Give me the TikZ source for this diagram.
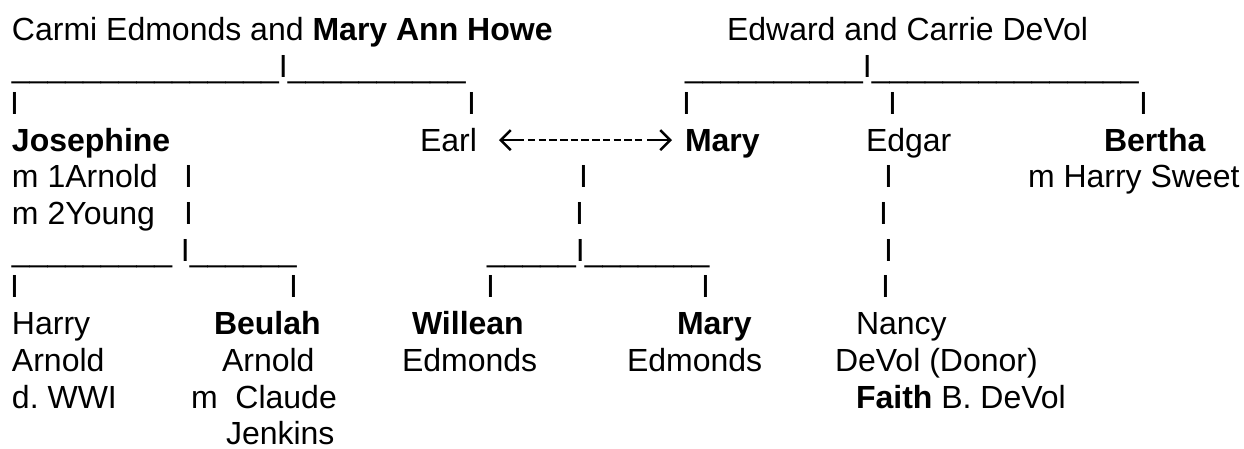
\documentclass[tikz,border=0pt]{standalone}
\usepackage{fontspec}
\setmainfont{Liberation Sans}
\usetikzlibrary{arrows.meta}
\newcommand{\unders}[1]{\foreach \k in {1,...,#1}{\_}}

\begin{document}
\begin{tikzpicture}[x=1pt,y=-1pt,
  font=\fontsize{32}{37}\selectfont\frenchspacing,
  txt/.style={anchor=base west,inner sep=0pt,outer sep=0pt},
  spouse/.style={line width=2.5pt,dash pattern=on 7.5pt off 3.2pt},
  spousetip/.style={line width=2.5pt,-{Straight Barb[length=10pt,width=20pt]}}]
\fill[white] (0,0) rectangle (1244,449);
\useasboundingbox (0,0) rectangle (1244,449);
% grandparents
\node[txt] (edmonds) at (12,41) {Carmi Edmonds and \textbf{Mary Ann Howe}};
\node[txt] (devol) at (727,41) {Edward and Carrie DeVol};
\node[txt] (barE) at (12,77.7) {\unders{15}I\unders{10}};
\node[txt] (barD) at (685,77.7) {\unders{10}I\unders{15}};
\node[txt] (vjos) at (10,114.4) {I};
\node[txt] (vearl) at (467,114.4) {I};
\node[txt] (vmary) at (682,114.4) {I};
\node[txt] (vedgar) at (888,114.4) {I};
\node[txt] (vbertha) at (1139,114.4) {I};
% children
\node[txt] (josephine) at (12,151.1) {\textbf{Josephine}};
\node[txt] (earl) at (420,151.1) {Earl};
\node[txt] (mary) at (685,151.1) {\textbf{Mary}};
\node[txt] (edgar) at (866,151.1) {Edgar};
\node[txt] (bertha) at (1104,151.1) {\textbf{Bertha}};
\coordinate (sl) at ([xshift=22pt,yshift=11pt]earl.base east);
\coordinate (sr) at ([xshift=-13pt,yshift=11pt]mary.base west);
\draw[spouse] ([xshift=29pt]sl) -- ([xshift=-28pt]sr);
\draw[spousetip] ([xshift=25pt]sl) -- (sl);
\draw[spousetip] ([xshift=-25pt]sr) -- (sr);
\node[txt] (m1) at (12,187.8) {m 1Arnold};
\node[txt] (vjos2) at (184,187.8) {I};
\node[txt] (vem2) at (579,187.8) {I};
\node[txt] (vedgar2) at (884,187.8) {I};
\node[txt] (sweet) at (1028,187.8) {m Harry Sweet};
\node[txt] (m2) at (12,224.5) {m 2Young};
\node[txt] (vjos3) at (184,224.5) {I};
\node[txt] (vem3) at (575,224.5) {I};
\node[txt] (vedgar3) at (879,224.5) {I};
\node[txt] (barJ) at (12,261.2) {\unders{9} I\unders{6}};
\node[txt] (barM) at (487,261.2) {\unders{5}I\unders{7}};
\node[txt] (vedgar4) at (884,261.2) {I};
\node[txt] (vharry) at (10,297.9) {I};
\node[txt] (vbeulah) at (289,297.9) {I};
\node[txt] (vwillean) at (486,297.9) {I};
\node[txt] (vmary2) at (701,297.9) {I};
\node[txt] (vnancy) at (881,297.9) {I};
% grandchildren
\node[txt] (harry) at (12,334.6) {Harry};
\node[txt] (beulah) at (214,334.6) {\textbf{Beulah}};
\node[txt] (willean) at (412,334.6) {\textbf{Willean}};
\node[txt] (mary2) at (677,334.6) {\textbf{Mary}};
\node[txt] (nancy) at (856,334.6) {Nancy};
\node[txt] (harry2) at (12,371.3) {Arnold};
\node[txt] (beulah2) at (222,371.3) {Arnold};
\node[txt] (willean2) at (402,371.3) {Edmonds};
\node[txt] (mary3) at (627,371.3) {Edmonds};
\node[txt] (nancy2) at (835,371.3) {DeVol (Donor)};
\node[txt] (harry3) at (12,408) {d. WWI};
\node[txt] (beulah3) at (191,408) {m\ \ Claude};
\node[txt] (faith) at (856,408) {\textbf{Faith} B. DeVol};
\node[txt] (beulah4) at (226,444.7) {Jenkins};
\end{tikzpicture}
\end{document}
